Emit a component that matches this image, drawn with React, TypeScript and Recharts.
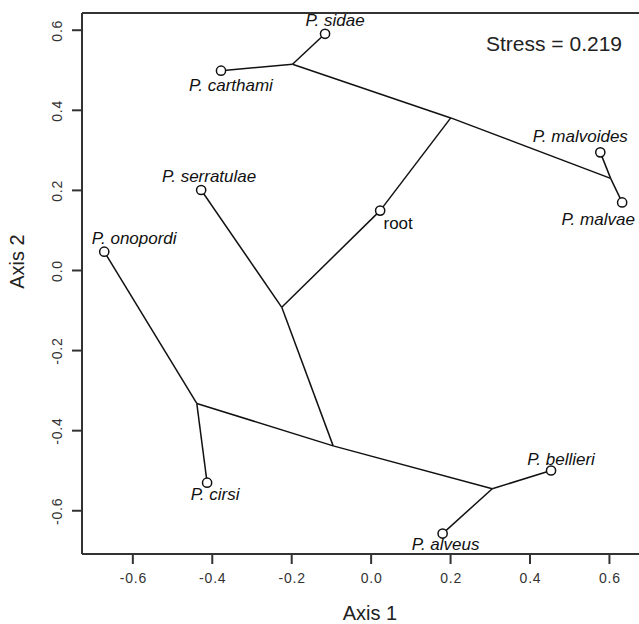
import { ScatterChart, Scatter, XAxis, YAxis, ReferenceLine, Customized } from "recharts";

// tips of the tree (open circles)
const TIP_NAMES = ["P. sidae", "P. carthami", "P. malvoides", "P. malvae", "root", "P. serratulae", "P. onopordi", "P. cirsi", "P. bellieri", "P. alveus"];
const TIP_X = [-0.116, -0.378, 0.577, 0.632, 0.0227, -0.428, -0.672, -0.413, 0.453, 0.18];
const TIP_Y = [0.591, 0.499, 0.295, 0.17, 0.1495, 0.201, 0.047, -0.53, -0.4995, -0.657];

// inner nodes (no marker)
const NODE_NAMES = ["n1", "n2", "n3", "n4", "n5", "n6", "n7"];
const NODE_X = [-0.198, 0.2005, 0.603, -0.225, -0.0956, -0.439, 0.305];
const NODE_Y = [0.515, 0.381, 0.23, -0.092, -0.438, -0.332, -0.545];

const EDGES: [string, string][] = [
  ["P. sidae", "n1"], ["P. carthami", "n1"], ["n1", "n2"], ["n2", "n3"],
  ["n3", "P. malvoides"], ["n3", "P. malvae"], ["n2", "root"], ["root", "n4"],
  ["n4", "P. serratulae"], ["n4", "n5"], ["n5", "n6"], ["n6", "P. onopordi"],
  ["n6", "P. cirsi"], ["n5", "n7"], ["n7", "P. bellieri"], ["n7", "P. alveus"],
];

const TICKS = [-0.6, -0.4, -0.2, 0, 0.2, 0.4, 0.6];
const X_DOMAIN: [number, number] = [-0.728, 0.682];
const Y_DOMAIN: [number, number] = [-0.708, 0.643];
const STRESS = 0.219;

// label placement around each circle (px)
const LABEL_POS: Record<string, { dx: number; dy: number }> = {
  "P. sidae": { dx: 10, dy: -13 },
  "P. carthami": { dx: 10, dy: 15 },
  "P. malvoides": { dx: -20, dy: -16 },
  "P. malvae": { dx: -24, dy: 17 },
  root: { dx: 18, dy: 13 },
  "P. serratulae": { dx: 8, dy: -13 },
  "P. onopordi": { dx: 30, dy: -13 },
  "P. cirsi": { dx: 8, dy: 12 },
  "P. bellieri": { dx: 10, dy: -11 },
  "P. alveus": { dx: 3, dy: 11 },
};

const FONT = "'Liberation Sans', Arial, Helvetica, sans-serif";
const AXIS = "#333";

const allPts: Record<string, { x: number; y: number }> = {};
TIP_NAMES.forEach((n, i) => (allPts[n] = { x: TIP_X[i], y: TIP_Y[i] }));
NODE_NAMES.forEach((n, i) => (allPts[n] = { x: NODE_X[i], y: NODE_Y[i] }));

const tips = TIP_NAMES.map((name, i) => ({ name, x: TIP_X[i], y: TIP_Y[i] }));

const Empty = () => <g />;

const TipShape = (props: any) => {
  const { cx, cy, payload } = props;
  const pos = LABEL_POS[payload.name] || { dx: 0, dy: 12 };
  const italic = payload.name !== "root";
  return (
    <g>
      <circle cx={cx} cy={cy} r={4.6} fill="#fff" stroke="#111" strokeWidth={1.5} />
      <text x={cx + pos.dx} y={cy + pos.dy} textAnchor="middle" dominantBaseline="central"
        fontFamily={FONT} fontSize={17} fontStyle={italic ? "italic" : "normal"} fill="#111">
        {payload.name}
      </text>
    </g>
  );
};

const XTick = ({ x, y, payload }: any) => (
  <text x={x + 0.5} y={y + 12} textAnchor="middle" dominantBaseline="central" fontFamily={FONT}
    fontSize={14} letterSpacing={0.8} fill={AXIS}>
    {payload.value.toFixed(1)}
  </text>
);

const YTick = ({ x, y, payload }: any) => (
  <text x={x - 13} y={y + 0.5} transform={`rotate(-90 ${x - 13} ${y + 0.5})`} textAnchor="middle" dominantBaseline="central"
    fontFamily={FONT} fontSize={14} letterSpacing={0.8} fill={AXIS}>
    {payload.value.toFixed(1)}
  </text>
);

const Titles = () => (
  <g fontFamily={FONT} fill="#222">
    <text x={486} y={43} dominantBaseline="central" fontSize={21}>{`Stress = ${STRESS}`}</text>
    <text x={370} y={613} textAnchor="middle" dominantBaseline="central" fontSize={20}>Axis 1</text>
    <text x={17} y={261.5} transform="rotate(-90 17 261.5)" textAnchor="middle" dominantBaseline="central" fontSize={20}>Axis 2</text>
  </g>
);

export default function App() {
  return (
    <div style={{ position: "absolute", left: 0, top: 0, width: 639, height: 624, overflow: "hidden", background: "#fff" }}>
      <ScatterChart width={645} height={624} margin={{ top: 13, right: 3, left: 0, bottom: 0 }}>
        <XAxis type="number" dataKey="x" domain={X_DOMAIN} ticks={TICKS} allowDataOverflow height={70}
          tick={<XTick />} tickSize={10} stroke={AXIS} strokeWidth={2} />
        <YAxis type="number" dataKey="y" domain={Y_DOMAIN} ticks={TICKS} allowDataOverflow width={82}
          tick={<YTick />} tickSize={10} stroke={AXIS} strokeWidth={2} />
        <ReferenceLine y={Y_DOMAIN[1]} stroke={AXIS} strokeWidth={2} />
        <ReferenceLine x={X_DOMAIN[1]} stroke={AXIS} strokeWidth={2} />
        {EDGES.map(([a, b], i) => (
          <Scatter key={i} data={[allPts[a], allPts[b]]} line={{ stroke: "#111", strokeWidth: 1.5 }}
            shape={<Empty />} isAnimationActive={false} />
        ))}
        <Scatter data={tips} shape={<TipShape />} isAnimationActive={false} />
        <Customized component={Titles} />
      </ScatterChart>
    </div>
  );
}
